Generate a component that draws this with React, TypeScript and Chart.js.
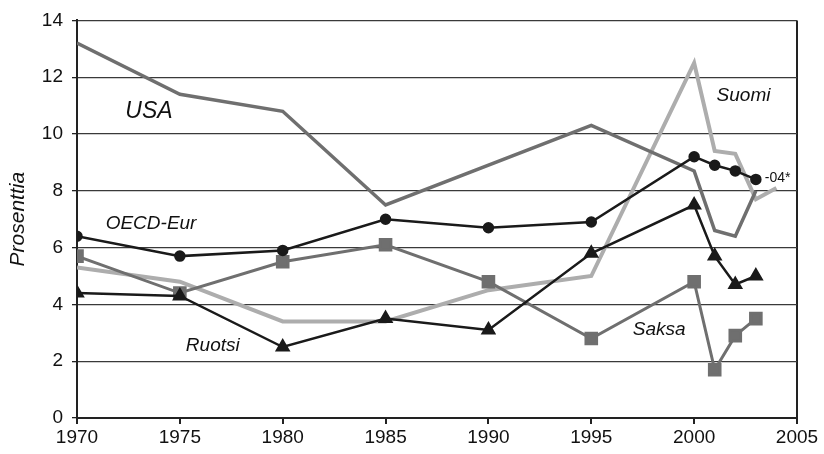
import React, { useEffect, useRef } from "react";
import { Chart, registerables } from "chart.js";

Chart.register(...registerables);

const years = [1970, 1975, 1980, 1985, 1990, 1995, 2000, 2001, 2002, 2003];
const suomiYears = [1970, 1975, 1980, 1985, 1990, 1995, 2000, 2001, 2002, 2003, 2004];
const usaYears = [1970, 1975, 1980, 1985, 1995, 2000, 2001, 2002, 2003];

const usa = [13.2, 11.4, 10.8, 7.5, 10.3, 8.7, 6.6, 6.4, 8.0];
const suomi = [5.3, 4.8, 3.4, 3.4, 4.5, 5.0, 12.5, 9.4, 9.3, 7.7, 8.1];
const oecdEur = [6.4, 5.7, 5.9, 7.0, 6.7, 6.9, 9.2, 8.9, 8.7, 8.4];
const ruotsi = [4.4, 4.3, 2.5, 3.5, 3.1, 5.8, 7.5, 5.7, 4.7, 5.0];
const saksa = [5.7, 4.4, 5.5, 6.1, 4.8, 2.8, 4.8, 1.7, 2.9, 3.5];

const yTicks = [0, 2, 4, 6, 8, 10, 12, 14];
const xTicks = [1970, 1975, 1980, 1985, 1990, 1995, 2000, 2005];

const labels = [
  { text: "USA", x: 1973.5, y: 10.8, size: 23 },
  { text: "Suomi", x: 2002.4, y: 11.36, size: 19 },
  { text: "OECD-Eur", x: 1973.6, y: 6.85, size: 19 },
  { text: "Ruotsi", x: 1976.6, y: 2.53, size: 19 },
  { text: "Saksa", x: 1998.3, y: 3.12, size: 19 },
];

const pts = (xs: number[], ys: number[]) => xs.map((x, i) => ({ x, y: ys[i] }));

const FONT = "'Liberation Sans', Arial, sans-serif";

export default function App() {
  const ref = useRef<HTMLCanvasElement | null>(null);

  useEffect(() => {
    if (!ref.current) return;
    const annot = {
      id: "annot",
      afterDatasetsDraw(chart: any) {
        const { ctx, scales } = chart;
        const xs = scales.x;
        const ys = scales.y;
        ctx.save();
        ctx.fillStyle = "#111";
        ctx.textBaseline = "middle";
        ctx.textAlign = "center";
        labels.forEach((l) => {
          ctx.font = `italic ${l.size}px ${FONT}`;
          ctx.fillText(l.text, xs.getPixelForValue(l.x), ys.getPixelForValue(l.y));
        });
        ctx.textAlign = "left";
        ctx.font = `14px ${FONT}`;
        ctx.fillText("-04*", xs.getPixelForValue(2003) + 9, ys.getPixelForValue(8.4) - 1);
        ctx.restore();
      },
    };

    const chart = new Chart(ref.current, {
      type: "line",
      data: {
        datasets: [
          {
            label: "OECD-Eur",
            data: pts(years, oecdEur),
            borderColor: "#1a1a1a",
            backgroundColor: "#1a1a1a",
            borderWidth: 2.5,
            pointStyle: "circle",
            pointRadius: 4.5,
            tension: 0,
            order: 1,
          },
          {
            label: "Ruotsi",
            data: pts(years, ruotsi),
            borderColor: "#1a1a1a",
            backgroundColor: "#1a1a1a",
            borderWidth: 2.5,
            pointStyle: "triangle",
            pointRadius: 6.5,
            tension: 0,
            order: 2,
          },
          {
            label: "Saksa",
            data: pts(years, saksa),
            borderColor: "#6f6f6f",
            backgroundColor: "#6f6f6f",
            borderWidth: 3,
            pointStyle: "rect",
            pointRadius: 7.5,
            tension: 0,
            order: 3,
          },
          {
            label: "USA",
            data: pts(usaYears, usa),
            borderColor: "#6f6f6f",
            borderWidth: 3.5,
            pointRadius: 0,
            tension: 0,
            order: 4,
          },
          {
            label: "Suomi",
            data: pts(suomiYears, suomi),
            borderColor: "#adadad",
            borderWidth: 4,
            pointRadius: 0,
            tension: 0,
            order: 5,
          },
        ],
      },
      options: {
        animation: false,
        responsive: false,
        maintainAspectRatio: false,
        layout: { padding: { top: 20, right: 27, left: 0, bottom: 0 } },
        plugins: { legend: { display: false }, tooltip: { enabled: false } },
        scales: {
          x: {
            type: "linear",
            min: 1970,
            max: 2005,
            afterBuildTicks: (s: any) => {
              s.ticks = xTicks.map((v) => ({ value: v }));
            },
            afterFit: (s: any) => {
              s.height = 36;
            },
            ticks: {
              color: "#111",
              font: { family: FONT, size: 19 },
              padding: 2,
              callback: (v: any) => String(v),
              maxRotation: 0,
            },
            grid: {
              color: (c: any) => (c.tick && c.tick.value === 2005 ? "#222" : "rgba(0,0,0,0)"),
              lineWidth: 2,
              tickColor: "#222",
              tickLength: 6,
              drawTicks: true,
            },
            border: { color: "#222", width: 2 },
          },
          y: {
            min: 0,
            max: 14,
            afterBuildTicks: (s: any) => {
              s.ticks = yTicks.map((v) => ({ value: v }));
            },
            afterFit: (s: any) => {
              s.width = 77;
            },
            ticks: {
              color: "#111",
              font: { family: FONT, size: 19 },
              padding: 9,
            },
            grid: {
              color: "#3a3a3a",
              lineWidth: 1.3,
              tickColor: "#222",
              tickLength: 5,
            },
            border: { color: "#222", width: 2 },
            title: {
              display: true,
              text: "Prosenttia",
              color: "#111",
              font: { family: FONT, size: 21, style: "italic" },
              padding: { top: 6, bottom: 0 },
            },
          },
        },
      },
      plugins: [annot],
    } as any);
    return () => chart.destroy();
  }, []);

  return (
    <div style={{ position: "absolute", left: 0, top: 0, width: 824, height: 454, background: "#fff" }}>
      <canvas ref={ref} width={824} height={454} style={{ width: 824, height: 454 }} />
    </div>
  );
}
